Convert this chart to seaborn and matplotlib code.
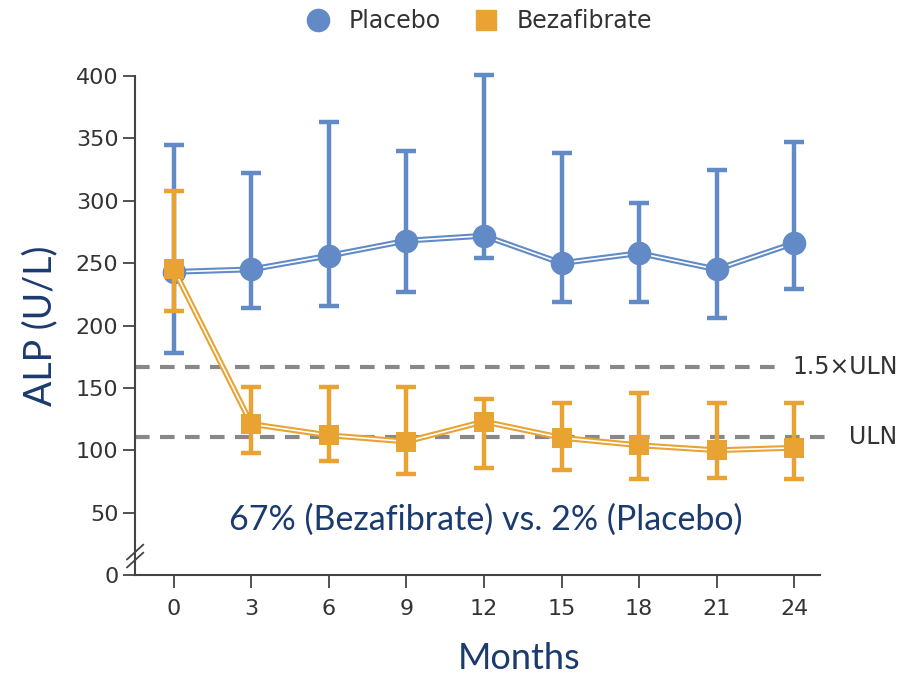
import pandas as pd
import matplotlib
matplotlib.use("Agg")
import matplotlib.pyplot as plt
from matplotlib.lines import Line2D
import seaborn as sns

# data
months = [0, 3, 6, 9, 12, 15, 18, 21, 24]
placebo_mean = [243, 245, 256, 268, 272, 250, 258, 245, 266]
placebo_upper = [345, 322, 363, 340, 401, 338, 298, 325, 347]
placebo_lower = [178, 214, 216, 227, 254, 219, 219, 206, 229]
beza_mean = [245, 121, 112, 107, 123, 110, 104, 100, 102]
beza_upper = [308, 151, 151, 151, 141, 138, 146, 138, 138]
beza_lower = [212, 98, 91, 81, 86, 84, 77, 78, 77]
uln = 111
uln_15 = 166.5
y_ticks = [0, 50, 100, 150, 200, 250, 300, 350, 400]

blue = "#618AC6"
orange = "#E8A333"
gray_txt = "#333333"
navy = "#1B3A6E"

df = pd.DataFrame({
    "Months": months * 2,
    "ALP": placebo_mean + beza_mean,
    "upper": placebo_upper + beza_upper,
    "lower": placebo_lower + beza_lower,
    "group": ["Placebo"] * len(months) + ["Bezafibrate"] * len(months),
})

sns.set_style("white")
tick_font = ["Liberation Sans Narrow", "DejaVu Sans"]
label_font = ["Lato", "DejaVu Sans"]

fig = plt.figure(figsize=(9.07, 6.85), dpi=100)
ax = fig.add_axes([0.149, 0.1606, 0.755, 0.7284])

# reference lines, stopping short of their labels
ax.hlines(uln_15, -1.5, 23.3, color="#888888", lw=3, ls=(0, (3.5, 2.5)), zorder=1,
          clip_on=False)
ax.hlines(uln, -1.5, 25.6, color="#888888", lw=3, ls=(0, (3.5, 2.5)), zorder=1,
          clip_on=False)

markers = {"Placebo": "o", "Bezafibrate": "s"}
sizes = {"Placebo": 17 ** 2, "Bezafibrate": 15 ** 2}
colors = {"Placebo": blue, "Bezafibrate": orange}

z = 2
for g in ["Placebo", "Bezafibrate"]:
    d = df[df["group"] == g]
    ax.errorbar(d["Months"], d["ALP"],
                yerr=[d["ALP"] - d["lower"], d["upper"] - d["ALP"]],
                fmt="none", ecolor=colors[g], elinewidth=3.2, capsize=7,
                capthick=3.2, zorder=z, clip_on=False)
    sns.lineplot(data=d, x="Months", y="ALP", color=colors[g], lw=4.2,
                 ax=ax, zorder=z + 0.1, legend=False)
    sns.lineplot(data=d, x="Months", y="ALP", color="white", lw=1.2,
                 ax=ax, zorder=z + 0.2, legend=False)
    sns.scatterplot(data=d, x="Months", y="ALP", color=colors[g],
                    marker=markers[g], s=sizes[g], linewidth=0,
                    ax=ax, zorder=z + 0.3, legend=False, clip_on=False)
    z += 1

ax.set_xlim(-1.5, 25)
ax.set_ylim(0, 400)
ax.set_xticks(months)
ax.set_yticks(y_ticks)
ax.set_xticklabels([str(m) for m in months], family=tick_font, fontsize=16, color=gray_txt)
ax.set_yticklabels([str(v) for v in y_ticks], family=tick_font, fontsize=16, color=gray_txt)
ax.tick_params(axis="both", direction="out", length=9, width=1.3, color="#444444",
               left=True, bottom=True)
ax.tick_params(axis="x", pad=8)
ax.tick_params(axis="y", pad=3)

for s in ["top", "right"]:
    ax.spines[s].set_visible(False)
for s in ["left", "bottom"]:
    ax.spines[s].set_color("#444444")
    ax.spines[s].set_linewidth(1.5)

ax.set_xlabel("Months", family=label_font, fontsize=26, color=navy)
ax.xaxis.set_label_coords(0.56, -0.135)
ax.set_ylabel("ALP (U/L)", family=label_font, fontsize=27, color=navy)
ax.yaxis.set_label_coords(-0.112, 0.5)

# axis break marks
for dy in [0, 0.016]:
    ax.plot([-0.012, 0.012], [0.015 + dy, 0.045 + dy], transform=ax.transAxes,
            color="#444444", lw=1.3, clip_on=False)

ax.text(28.0, uln_15, "1.5\u00d7ULN", ha="right", va="center", family=tick_font,
        fontsize=17, color=gray_txt, clip_on=False)
ax.text(28.0, uln, "ULN", ha="right", va="center", family=tick_font,
        fontsize=17, color=gray_txt, clip_on=False)

ax.text(12.05, 44, "67% (Bezafibrate) vs. 2% (Placebo)", ha="center", va="center",
        family=label_font, fontsize=24.5, color=navy)

handles = [
    Line2D([], [], marker="o", color=blue, ls="none", markersize=16, label="Placebo"),
    Line2D([], [], marker="s", color=orange, ls="none", markersize=15, label="Bezafibrate"),
]
fig.legend(handles=handles, loc="upper center", bbox_to_anchor=(0.522, 1.018), ncol=2,
           frameon=False, prop={"family": tick_font, "size": 17}, handletextpad=0.3,
           columnspacing=0.9, labelcolor=gray_txt)

fig.savefig("out.png", dpi=100)
